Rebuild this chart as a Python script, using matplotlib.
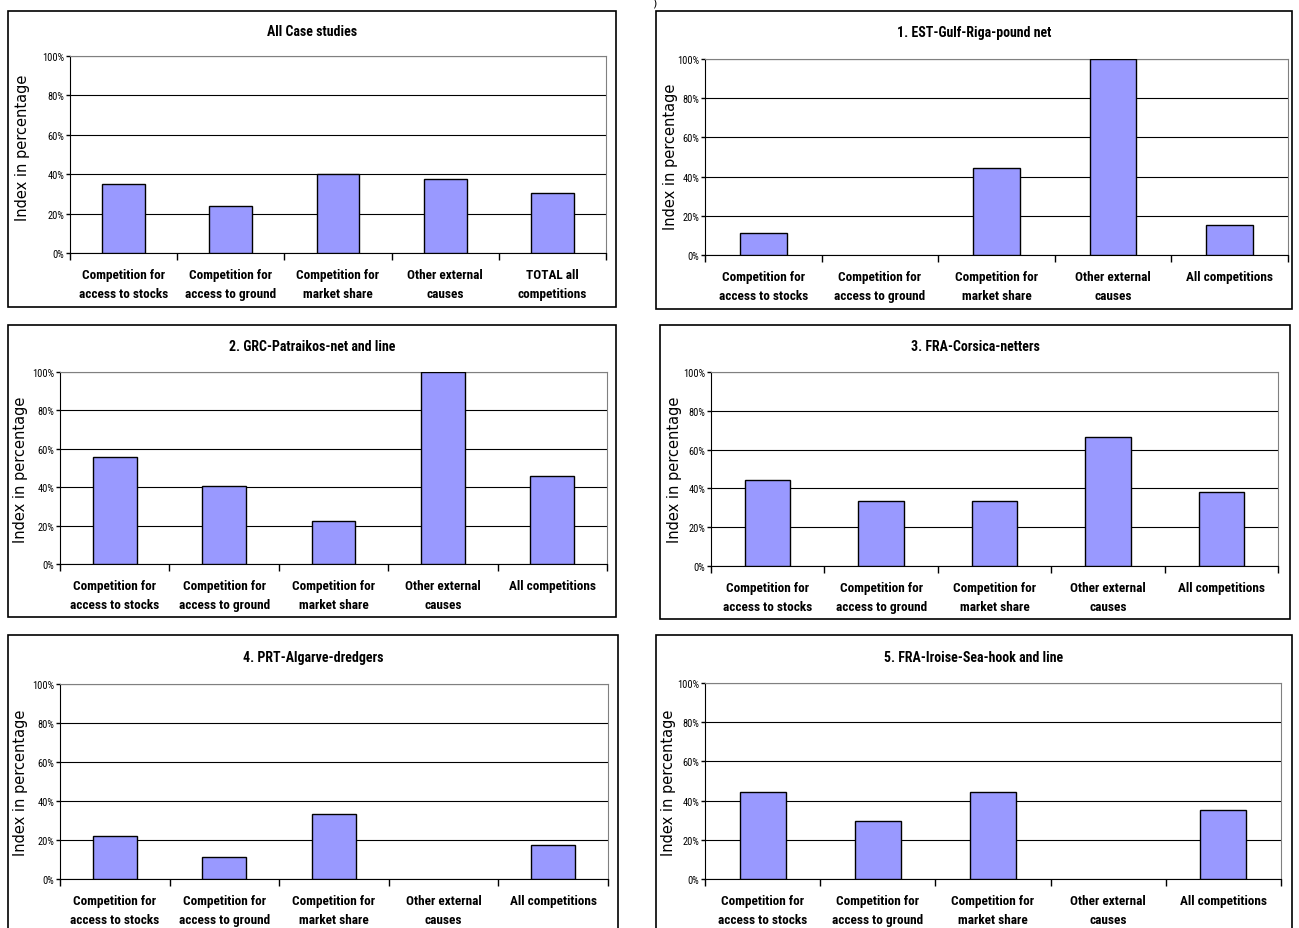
import matplotlib
matplotlib.use("Agg")
import matplotlib.pyplot as plt
from matplotlib.patches import Rectangle
from matplotlib.ticker import FuncFormatter
from matplotlib import font_manager

W, H = 1299, 929

cats_total = ["Competition for\naccess to stocks", "Competition for\naccess to ground",
              "Competition for\nmarket share", "Other external\ncauses", "TOTAL all\ncompetitions"]
cats = ["Competition for\naccess to stocks", "Competition for\naccess to ground",
        "Competition for\nmarket share", "Other external\ncauses", "All competitions"]

titles = ["All Case studies", "1. EST-Gulf-Riga-pound net", "2. GRC-Patraikos-net and line",
          "3. FRA-Corsica-netters", "4. PRT-Algarve-dredgers", "5. FRA-Iroise-Sea-hook and line"]

all_cases = [35.0, 24.0, 40.0, 37.5, 30.3]
est_riga = [11.1, 0, 44.4, 100, 15.3]
grc_patraikos = [55.6, 40.7, 22.2, 100, 45.8]
fra_corsica = [44.4, 33.3, 33.3, 66.7, 38.1]
prt_algarve = [22.2, 11.1, 33.3, 0, 17.4]
fra_iroise = [44.4, 29.6, 44.4, 0, 35.2]

series = [all_cases, est_riga, grc_patraikos, fra_corsica, prt_algarve, fra_iroise]
labels = [cats_total, cats, cats, cats, cats, cats]

# pixel layout: box, plot area, title y, y-label centre
boxes = [(8, 12, 616, 308), (656, 12, 1292, 310),
         (8, 326, 616, 618), (660, 326, 1290, 620),
         (8, 636, 618, 960), (656, 636, 1292, 960)]
plots = [(70, 57, 606, 254), (705, 60, 1288, 256),
         (60, 373, 607, 565), (711, 373, 1278, 567),
         (60, 685, 608, 880), (705, 684, 1281, 880)]
title_y = [32, 33, 347, 347, 658, 658]
ylab_pos = [(23, 148), (671, 157), (21, 470), (674, 470), (21, 783), (669, 783)]

names = {f.name for f in font_manager.fontManager.ttflist}
narrow = "Liberation Sans"
for cand in ["Liberation Sans Narrow", "Roboto Condensed", "Open Sans Condensed"]:
    if cand in names:
        narrow = cand
        break

fig = plt.figure(figsize=(W / 100, H / 100), dpi=100)
fig.patch.set_facecolor("white")


def fx(x):
    return x / W


def fy(y):
    return 1 - y / H


for i in range(6):
    bx0, by0, bx1, by1 = boxes[i]
    fig.patches.append(Rectangle((fx(bx0), fy(by1)), fx(bx1 - bx0), (by1 - by0) / H,
                                 transform=fig.transFigure, fill=False,
                                 edgecolor="black", linewidth=1.2))
    px0, py0, px1, py1 = plots[i]
    ax = fig.add_axes([fx(px0), fy(py1), fx(px1 - px0), (py1 - py0) / H])
    x = list(range(5))
    lw = [1.0 if v > 0 else 0 for v in series[i]]
    ax.bar(x, series[i], width=0.4, color="#9999FF", edgecolor="black", linewidth=lw, zorder=3)
    ax.set_xlim(-0.5, 4.5)
    ax.set_ylim(0, 100)
    ax.set_yticks([0, 20, 40, 60, 80, 100])
    ax.yaxis.set_major_formatter(FuncFormatter(lambda v, p: f"{int(v)}%"))
    ax.grid(axis="y", color="black", linewidth=0.8, zorder=0)
    ax.set_axisbelow(True)
    ax.set_xticks([-0.5, 0.5, 1.5, 2.5, 3.5, 4.5])
    ax.set_xticklabels([])
    ax.set_xticks(x, minor=True)
    ax.set_xticklabels(labels[i], minor=True, fontsize=9.5, fontweight="bold",
                       family=narrow, linespacing=1.6)
    ax.tick_params(axis="x", which="major", direction="out", length=5, width=1)
    ax.tick_params(axis="x", which="minor", length=0, pad=11)
    ax.tick_params(axis="y", direction="out", length=3, width=1, pad=1, labelsize=7.5)
    for t in ax.get_yticklabels():
        t.set_family(narrow)
    ax.spines["left"].set_color("black")
    ax.spines["bottom"].set_color("black")
    ax.spines["top"].set_color("#808080")
    ax.spines["right"].set_color("#808080")
    lx, ly = ylab_pos[i]
    fig.text(fx(lx), fy(ly), "Index in percentage", rotation=90, ha="center", va="center",
             fontsize=10.5)
    fig.text(fx((bx0 + bx1) / 2), fy(title_y[i]), titles[i], ha="center", va="center",
             fontsize=10, fontweight="bold", family=narrow)

fig.text(fx(652), fy(3), ")", ha="left", va="center", fontsize=8)

fig.savefig("out.png", dpi=100)
